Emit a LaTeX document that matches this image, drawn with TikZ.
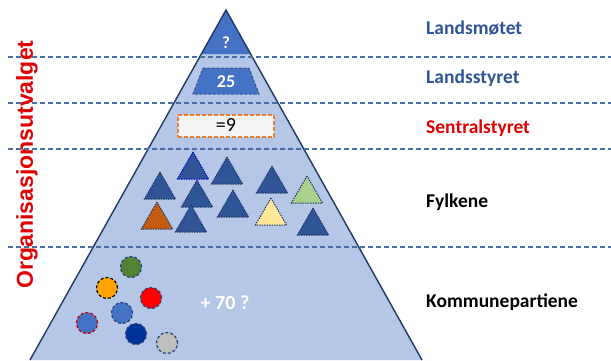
\documentclass[tikz,border=0pt]{standalone}
\usepackage{fontspec}
\setmainfont{Carlito}
\newfontfamily\arialfont{Liberation Sans}
\usetikzlibrary{shapes.geometric}

\definecolor{pyrfill}{HTML}{B4C7E7}
\definecolor{pyrline}{HTML}{1F3864}
\definecolor{midblue}{HTML}{4472C4}
\definecolor{fylkeblue}{HTML}{2F5597}
\definecolor{titleblue}{HTML}{2F5597}
\definecolor{sepline}{HTML}{4A6FA5}
\definecolor{boxorange}{HTML}{ED7D31}
\definecolor{titlered}{HTML}{E00000}

\begin{document}
\begin{tikzpicture}[
    x=1pt, y=-1pt,
    sep/.style={sepline, line width=1.1pt, dash pattern=on 5pt off 3pt},
    level/.style={anchor=west, inner sep=0pt, font=\fontsize{19.5}{22}\selectfont\bfseries},
    fylke/.style={regular polygon, regular polygon sides=3, minimum size=36pt, inner sep=0pt,
                  fill=fylkeblue, draw=pyrline, line width=1pt, dash pattern=on 1.5pt off 1pt},
    parti/.style={circle, minimum size=21pt, inner sep=0pt, line width=1.2pt,
                  draw=fylkeblue!80!black, dash pattern=on 3pt off 2pt}
]
\useasboundingbox (0,0) rectangle (611,360);

% pyramid
\fill[pyrfill] (226,10) -- (422,360) -- (30,360) -- cycle;
\fill[midblue] (226,10) -- (250.6,54) -- (201.4,54) -- cycle;
\draw[pyrline, line width=1.4pt] (30,360) -- (226,10) -- (422,360);

% separators
\foreach \yy in {57,103,149,247}
  \draw[sep] (8,\yy) -- (611,\yy);

\node[text=white, font=\fontsize{17}{19}\selectfont\bfseries] (tip) at (226,43) {?};
\filldraw[fill=midblue, draw=fylkeblue, line width=1pt, dash pattern=on 3pt off 1.5pt]
  (203,68) -- (249,68) -- (259,94) -- (193,94) -- cycle;
\node[text=white, font=\fontsize{18}{20}\selectfont\bfseries] (styret) at (226,82) {25};
\node[draw=boxorange, fill=gray!8, line width=2pt, dash pattern=on 4pt off 2pt,
      minimum width=96pt, minimum height=22pt, inner sep=0pt,
      font=\fontsize{20}{22}\selectfont] (sentral) at (226,125.5) {=9};

% fylker
\node[fylke, draw=blue!80!black] (f1) at (193,170) {};
\node[fylke] (f2) at (227,175) {};
\node[fylke] (f3) at (272,184) {};
\node[fylke] (f4) at (160,190) {};
\node[fylke] (f5) at (197,198) {};
\node[fylke, fill={rgb,255:red,169;green,209;blue,142}] (f6) at (307,194) {};
\node[fylke, fill={rgb,255:red,197;green,90;blue,17}] (f7) at (157,220) {};
\node[fylke] (f8) at (191,223) {};
\node[fylke] (f9) at (233,208) {};
\node[fylke, fill={rgb,255:red,255;green,230;blue,153}] (f10) at (271,216) {};
\node[fylke] (f11) at (313,226) {};

% kommunepartier
\node[parti, fill={rgb,255:red,84;green,130;blue,53}] (k1) at (131,267) {};
\node[parti, fill={rgb,255:red,255;green,165;blue,0}, draw=black] (k2) at (107,288) {};
\node[parti, fill=red] (k3) at (151,298) {};
\node[parti, fill=midblue] (k4) at (122,313) {};
\node[parti, fill=midblue, draw={rgb,255:red,192;green,0;blue,0}] (k5) at (87,323) {};
\node[parti, fill={rgb,255:red,0;green,51;blue,153}] (k6) at (136,334) {};
\node[parti, fill=gray!50] (k7) at (167,343) {};
\node[text=white, font=\fontsize{20}{22}\selectfont\bfseries] (pluss) at (225,303) {+ 70 ?};

% nivaaer
\node[level, text=titleblue] (lm) at (426,28) {Landsmøtet};
\node[level, text=titleblue] (ls) at (426,78) {Landsstyret};
\node[level, text=titlered] (ss) at (426,128) {Sentralstyret};
\node[level] (fy) at (426,202) {Fylkene};
\node[level] (kp) at (426,302) {Kommunepartiene};

\node[rotate=90, text=titlered, inner sep=0pt, font=\arialfont\fontsize{23}{25}\selectfont\bfseries] (ou) at (27,164.5) {Organisasjonsutvalget};
\end{tikzpicture}
\end{document}
